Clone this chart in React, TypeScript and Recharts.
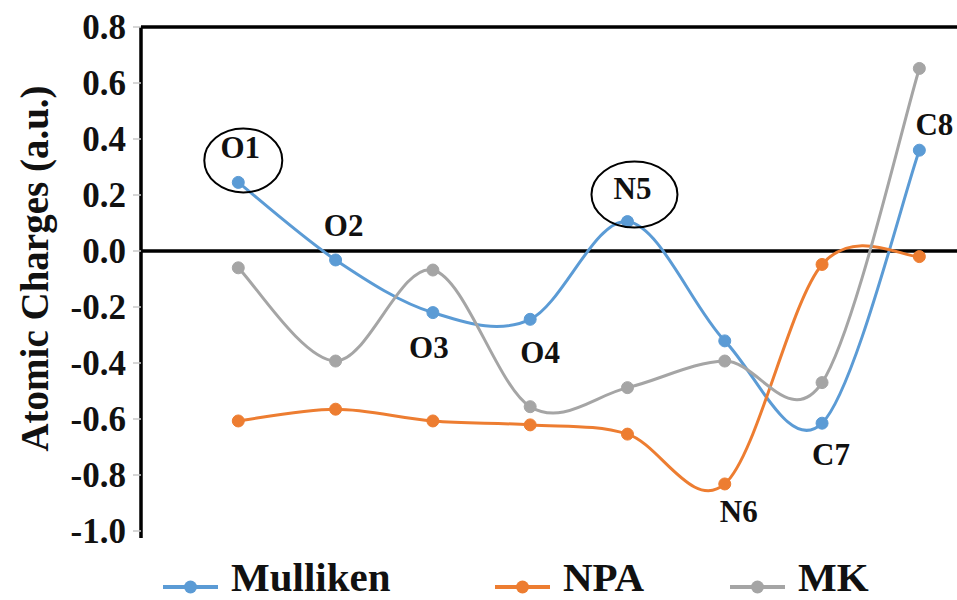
import React from 'react';
import { LineChart, Line, XAxis, YAxis, ReferenceLine, Legend, LabelList } from 'recharts';

const atoms = ['O1', 'O2', 'O3', 'O4', 'N5', 'N6', 'C7', 'C8'];
const positions = [1, 2, 3, 4, 5, 6, 7, 8];
const mulliken = [0.245, -0.032, -0.22, -0.244, 0.105, -0.321, -0.615, 0.36];
const npa = [-0.607, -0.565, -0.607, -0.621, -0.654, -0.832, -0.048, -0.02];
const mk = [-0.06, -0.393, -0.068, -0.556, -0.488, -0.393, -0.47, 0.652];
const yTicks = [-1.0, -0.8, -0.6, -0.4, -0.2, 0.0, 0.2, 0.4, 0.6, 0.8];
const seriesNames = ['Mulliken', 'NPA', 'MK'];

const data = atoms.map((a, i) => ({
  idx: positions[i],
  atom: a,
  Mulliken: mulliken[i],
  NPA: npa[i],
  MK: mk[i],
}));

const FONT = "'Liberation Serif', 'Times New Roman', Tinos, serif";
const COLORS: Record<string, string> = { Mulliken: '#5B9BD5', NPA: '#ED7D31', MK: '#A5A5A5' };

// Excel-like smoothed line (Catmull-Rom through points)
const excelSmooth = (context: any) => {
  let pts: number[][] = [];
  return {
    areaStart() {},
    areaEnd() {},
    lineStart() {
      pts = [];
    },
    point(x: number, y: number) {
      pts.push([+x, +y]);
    },
    lineEnd() {
      const n = pts.length;
      if (!n) return;
      context.moveTo(pts[0][0], pts[0][1]);
      const k = 1 / 6;
      for (let i = 0; i < n - 1; i++) {
        const p0 = pts[i - 1] || pts[i];
        const p1 = pts[i];
        const p2 = pts[i + 1];
        const p3 = pts[i + 2] || pts[i + 1];
        context.bezierCurveTo(
          p1[0] + k * (p2[0] - p0[0]),
          p1[1] + k * (p2[1] - p0[1]),
          p2[0] - k * (p3[0] - p1[0]),
          p2[1] - k * (p3[1] - p1[1]),
          p2[0],
          p2[1]
        );
      }
    },
  };
};

// label placement relative to anchor point (text baseline), plus optional ellipse
const labelPlacement: Record<string, any> = {
  O1: { dx: 2, dy: -24, ell: { dx: 5, dy: -22, rx: 39, ry: 32 } },
  O2: { dx: 8, dy: -24 },
  O3: { dx: -4, dy: 45 },
  O4: { dx: 10, dy: 44 },
  N5: { dx: 5, dy: -23, ell: { dx: 7, dy: -27, rx: 43, ry: 33 } },
  N6: { dx: 14, dy: 38 },
  C7: { dx: 9, dy: 42 },
  C8: { dx: 15, dy: -15 },
};

const makeLabel = (allowed: string[]) => (props: any) => {
  const value = props.value;
  if (!allowed.includes(value)) return null;
  const x = props.x ?? props.viewBox?.x;
  const y = props.y ?? props.viewBox?.y;
  if (x == null || y == null) return null;
  const p = labelPlacement[value];
  return (
    <g key={`lbl-${value}`}>
      {p.ell && (
        <ellipse
          cx={x + p.ell.dx}
          cy={y + p.ell.dy}
          rx={p.ell.rx}
          ry={p.ell.ry}
          fill="none"
          stroke="#000"
          strokeWidth={2}
        />
      )}
      <text
        x={x + p.dx}
        y={y + p.dy}
        textAnchor="middle"
        fontFamily={FONT}
        fontWeight="bold"
        fontSize={31}
        fill="#111"
      >
        {value}
      </text>
    </g>
  );
};

const legendWidths = [332, 235, 180];

const LegendContent = (props: any) => {
  const payload = [...(props.payload || [])].sort(
    (a: any, b: any) => seriesNames.indexOf(a.value) - seriesNames.indexOf(b.value)
  );
  return (
    <div
      style={{
        display: 'flex',
        alignItems: 'flex-start',
        height: 62,
        paddingLeft: 163,
        paddingTop: 19,
        boxSizing: 'border-box',
        fontFamily: FONT,
        fontWeight: 'bold',
        fontSize: 41,
        color: '#111',
      }}
    >
      {payload.map((entry: any, i: number) => (
        <div key={entry.value} style={{ display: 'flex', alignItems: 'center', width: legendWidths[i], height: 40 }}>
          <svg width={55} height={14} style={{ marginTop: 19, marginRight: 13, flex: 'none' }}>
            <line x1={0} y1={7} x2={55} y2={7} stroke={entry.color} strokeWidth={4} />
            <circle cx={27.5} cy={7} r={6.5} fill={entry.color} />
          </svg>
          <span style={{ lineHeight: '40px' }}>{entry.value}</span>
        </div>
      ))}
    </div>
  );
};

const YLabel = (props: any) => {
  const vb = props.viewBox || { x: 0, y: 27, width: 141, height: 511 };
  const cx = vb.x + 48;
  const cy = vb.y + vb.height / 2 - 14;
  return (
    <text
      x={cx}
      y={cy}
      transform={`rotate(-90, ${cx}, ${cy})`}
      textAnchor="middle"
      fontFamily={FONT}
      fontWeight="bold"
      fontSize={39}
      fill="#111"
    >
      Atomic Charges (a.u.)
    </text>
  );
};

export default function App() {
  return (
    <div
      style={{
        position: 'absolute',
        left: 0,
        top: 0,
        width: 957,
        height: 600,
        overflow: 'hidden',
        background: '#fff',
      }}
    >
      <LineChart
        width={970}
        height={600}
        data={data}
        margin={{ top: 27, right: 2, left: 0, bottom: 0 }}
        style={{ fontFamily: FONT }}
      >
        <XAxis
          type="number"
          dataKey="idx"
          domain={[0, 8.5]}
          tick={false}
          tickLine={false}
          height={0}
          axisLine={{ stroke: '#000', strokeWidth: 3.5 }}
        />
        <YAxis
          type="number"
          domain={[-1.025, 0.8]}
          ticks={yTicks}
          width={141}
          tickSize={8}
          tickMargin={7}
          tickLine={{ stroke: '#c8c8c8', strokeWidth: 1.5 }}
          axisLine={{ stroke: '#000', strokeWidth: 3.5 }}
          tickFormatter={(v: number) => v.toFixed(1)}
          tick={{ fontSize: 35, fontWeight: 'bold', fill: '#111', fontFamily: FONT }}
          label={<YLabel />}
        />
        <ReferenceLine y={0.8} stroke="#000" strokeWidth={3.5} />
        <ReferenceLine y={0} stroke="#000" strokeWidth={3.5} />
        <Legend
          verticalAlign="bottom"
          align="left"
          wrapperStyle={{ left: 0, bottom: 0, width: 957, height: 62 }}
          content={<LegendContent />}
        />
        <Line
          dataKey="Mulliken"
          name="Mulliken"
          type={excelSmooth as any}
          stroke={COLORS.Mulliken}
          strokeWidth={3}
          dot={{ r: 6, fill: COLORS.Mulliken, stroke: COLORS.Mulliken, strokeWidth: 1 }}
          activeDot={false}
          isAnimationActive={false}
        >
          <LabelList dataKey="atom" content={makeLabel(['O1', 'O2', 'O3', 'O4', 'N5', 'C7', 'C8'])} />
        </Line>
        <Line
          dataKey="NPA"
          name="NPA"
          type={excelSmooth as any}
          stroke={COLORS.NPA}
          strokeWidth={3}
          dot={{ r: 6, fill: COLORS.NPA, stroke: COLORS.NPA, strokeWidth: 1 }}
          activeDot={false}
          isAnimationActive={false}
        >
          <LabelList dataKey="atom" content={makeLabel(['N6'])} />
        </Line>
        <Line
          dataKey="MK"
          name="MK"
          type={excelSmooth as any}
          stroke={COLORS.MK}
          strokeWidth={3}
          dot={{ r: 6, fill: COLORS.MK, stroke: COLORS.MK, strokeWidth: 1 }}
          activeDot={false}
          isAnimationActive={false}
        />
      </LineChart>
    </div>
  );
}
